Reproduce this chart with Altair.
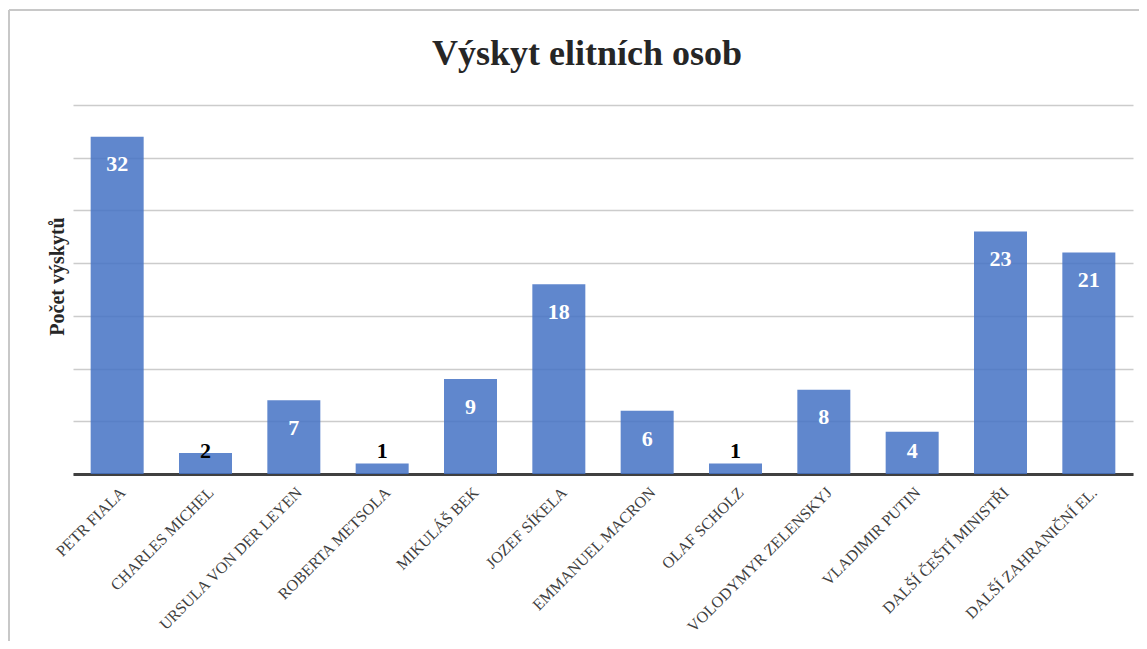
import altair as alt
import pandas as pd

names = ["PETR FIALA", "CHARLES MICHEL", "URSULA VON DER LEYEN", "ROBERTA METSOLA",
         "MIKULÁŠ BEK", "JOZEF SÍKELA", "EMMANUEL MACRON", "OLAF SCHOLZ",
         "VOLODYMYR ZELENSKYJ", "VLADIMIR PUTIN", "DALŠÍ ČEŠTÍ MINISTŘI",
         "DALŠÍ ZAHRANIČNÍ EL."]
values = [32, 2, 7, 1, 9, 18, 6, 1, 8, 4, 23, 21]
y_ticks = [0, 5, 10, 15, 20, 25, 30, 35]

df = pd.DataFrame({"name": names, "v": values})
FONT = "Liberation Serif"

x_enc = alt.X("name:N", sort=names, title=None,
              scale=alt.Scale(paddingInner=0.4, paddingOuter=0.2),
              axis=alt.Axis(labelAngle=315, labelAlign="right", labelBaseline="top",
                            labelPadding=10, ticks=False, domainColor="#404040",
                            domainWidth=3, labelFont=FONT, labelFontSize=16,
                            labelColor="#404040", grid=False, labelLimit=400))
y_enc = alt.Y("v:Q", title="Počet výskytů",
              scale=alt.Scale(domain=[0, 35], nice=False),
              axis=alt.Axis(values=y_ticks, labels=False, ticks=False, domain=False,
                            gridColor="#cccccc", gridWidth=1.5,
                            titleFont=FONT, titleFontSize=20, titleFontWeight="bold",
                            titleColor="#262626", titleX=-6, titleY=171,
                            titleAngle=270, titleBaseline="bottom"))

bars = alt.Chart(df).mark_bar(color="#4472C4", opacity=0.85).encode(x=x_enc, y=y_enc)

labels = alt.Chart(df).transform_calculate(
    ly="max(datum.v - 3.3, 1.5)"
).mark_text(font=FONT, fontSize=22, fontWeight="bold", baseline="alphabetic").encode(
    x=alt.X("name:N", sort=names),
    y=alt.Y("ly:Q"),
    text="v:Q",
    color=alt.condition("datum.v >= 3", alt.value("white"), alt.value("black")),
)

frame_top = alt.Chart(alt.Data(values=[{}])).mark_rule(color="#c8c8c8", strokeWidth=2).encode(
    x=alt.value(-64), x2=alt.value(1100), y=alt.value(-95))
frame_left = alt.Chart(alt.Data(values=[{}])).mark_rule(color="#c8c8c8", strokeWidth=2).encode(
    x=alt.value(-64), y=alt.value(-95), y2=alt.value(560))

chart = alt.layer(bars, labels, frame_top, frame_left).properties(
    width=1060, height=369,
    title=alt.Title("Výskyt elitních osob", font=FONT, fontSize=36, fontWeight="bold",
                    color="#262626", offset=-64, dx=-16),
    autosize=alt.AutoSizeParams(type="none"),
    padding={"left": 65, "top": 97, "right": 6, "bottom": 167},
).configure_view(stroke=None)

chart.save("out.html", embed_options={"renderer": "svg", "actions": False})
